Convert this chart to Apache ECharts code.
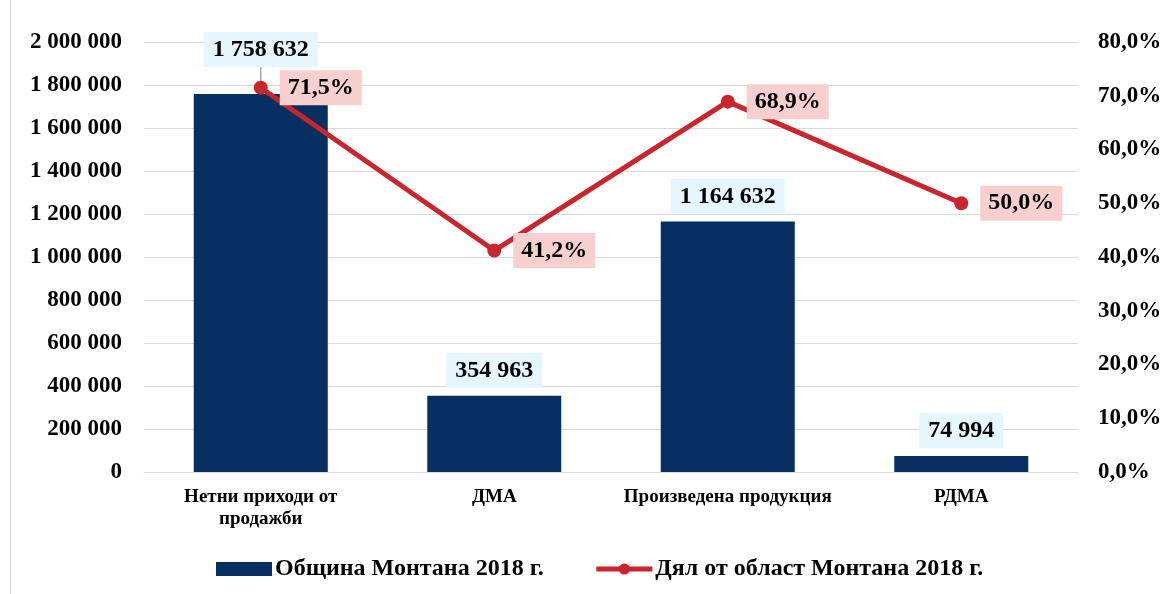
<!DOCTYPE html>
<html style="height: 100%">
<head>
    <meta charset="UTF-8">
    <title>Община Монтана 2018</title>
    <script src="https://cdn.jsdelivr.net/npm/echarts@6/dist/echarts.min.js"></script>
</head>
<body style="height: 100%; margin: 0; background: #fff">
    <div id="main" style="width: 1173px; height: 594px;"></div>
    <script>
        // данни
        var categories = ['Нетни приходи от\nпродажби', 'ДМА', 'Произведена продукция', 'РДМА'];
        var obshtina = [1758632, 354963, 1164632, 74994];
        var dyal = [71.5, 41.2, 68.9, 50.0];
        var barName = 'Община Монтана 2018 г.';
        var lineName = 'Дял от област Монтана 2018 г.';

        var font = '"Liberation Serif", "Times New Roman", serif';
        var navy = '#072f5f';
        var red = '#c8262c';

        function fmtNum(v) {
            return String(v).replace(/\B(?=(\d{3})+(?!\d))/g, ' ');
        }
        function fmtPct(v) {
            return v.toFixed(1).replace('.', ',') + '%';
        }

        var myChart = echarts.init(document.getElementById('main'));

        // първият етикет е вдигнат нагоре с водеща линия
        var barData = obshtina.map(function (v, i) {
            var item = { value: v };
            if (i === 0) {
                item.labelLine = { show: true, lineStyle: { color: '#a6a6a6', width: 1.5 } };
            }
            return item;
        });

        var option = {
            animation: false,
            textStyle: { fontFamily: font },
            graphic: [{
                type: 'line',
                shape: { x1: 10.5, y1: 0, x2: 10.5, y2: 594 },
                style: { stroke: '#d9d9d9', lineWidth: 1 }
            }],
            grid: { left: 144, right: 95, top: 42, bottom: 122 },
            legend: {
                bottom: 8,
                left: 211,
                itemGap: 50,
                itemWidth: 56,
                itemHeight: 14,
                textStyle: { fontFamily: font, fontWeight: 'bold', fontSize: 24, color: '#000', padding: [0, 0, 0, -2] },
                data: [
                    { name: barName, icon: 'rect' },
                    { name: lineName, lineStyle: { width: 5 } }
                ]
            },
            xAxis: {
                type: 'category',
                data: categories,
                axisLine: { lineStyle: { color: '#d9d9d9', width: 1 } },
                axisTick: { show: false },
                axisLabel: {
                    color: '#000', fontFamily: font, fontWeight: 'bold', fontSize: 19,
                    margin: 14, lineHeight: 22, interval: 0
                }
            },
            yAxis: [{
                type: 'value',
                min: 0, max: 2000000, interval: 200000,
                axisLine: { show: false },
                axisTick: { show: false },
                splitLine: { lineStyle: { color: '#d9d9d9', width: 1 } },
                axisLabel: {
                    color: '#000', fontFamily: font, fontWeight: 'bold', fontSize: 23,
                    margin: 22, formatter: fmtNum
                }
            }, {
                type: 'value',
                min: 0, max: 80, interval: 10,
                axisLine: { show: false },
                axisTick: { show: false },
                splitLine: { show: false },
                axisLabel: {
                    color: '#000', fontFamily: font, fontWeight: 'bold', fontSize: 23,
                    margin: 20, formatter: fmtPct
                }
            }],
            series: [{
                name: barName,
                type: 'bar',
                data: barData,
                barWidth: 134,
                itemStyle: { color: navy },
                labelLayout: function (p) {
                    if (p.dataIndex === 0) {
                        return { dy: -19 };
                    }
                },
                label: {
                    show: true,
                    position: 'top',
                    distance: 8,
                    formatter: function (p) { return fmtNum(p.value); },
                    color: '#000', fontFamily: font, fontWeight: 'bold', fontSize: 24,
                    backgroundColor: '#e5f6fc',
                    padding: [6, 9, 5, 9]
                }
            }, {
                name: lineName,
                type: 'line',
                yAxisIndex: 1,
                data: dyal,
                symbol: 'circle',
                symbolSize: 14,
                z: 3,
                lineStyle: { color: red, width: 5 },
                itemStyle: { color: red },
                label: {
                    show: true,
                    position: 'right',
                    distance: 12,
                    formatter: function (p) { return fmtPct(p.value); },
                    color: '#000', fontFamily: font, fontWeight: 'bold', fontSize: 24,
                    backgroundColor: '#f7cfcf',
                    padding: [6, 8, 5, 8]
                }
            }]
        };

        myChart.setOption(option);
    </script>
</body>
</html>
